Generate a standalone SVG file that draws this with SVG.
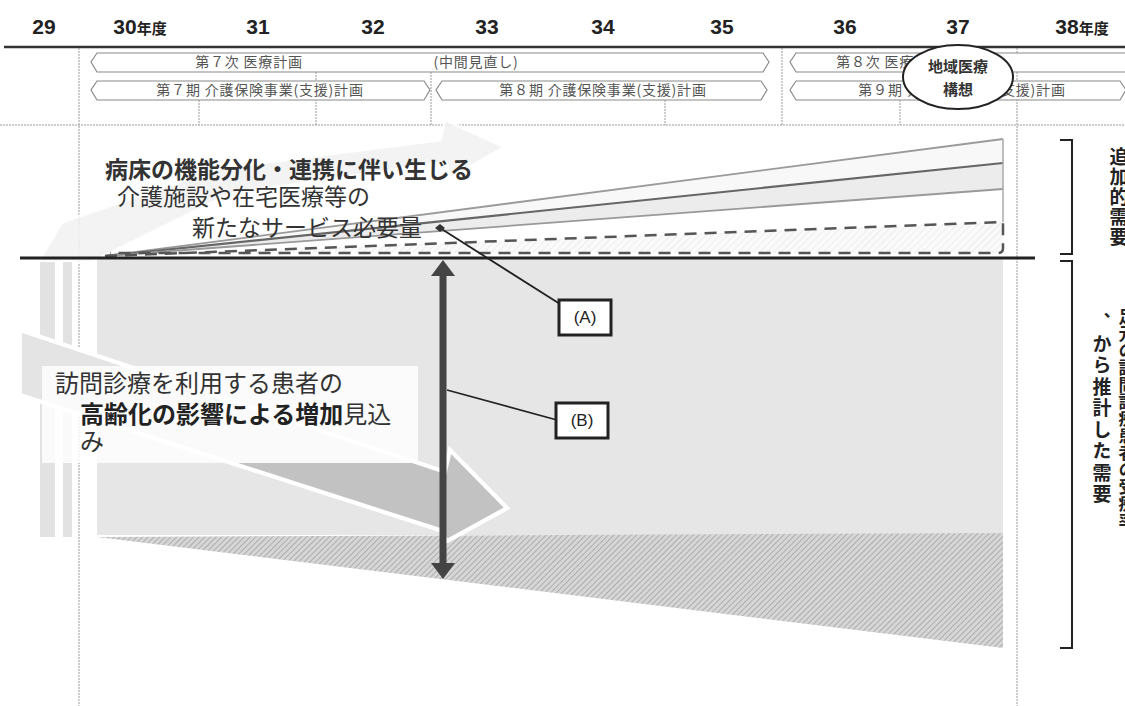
<svg xmlns="http://www.w3.org/2000/svg" width="1125" height="706" viewBox="0 0 1125 706">
<defs>
<style>
.yr{font-family:"Liberation Sans","Noto Sans CJK JP",sans-serif;font-weight:bold;font-size:21px;fill:#222;text-anchor:middle}
.yrs{font-family:"Noto Sans CJK JP",sans-serif;font-size:15px;font-weight:bold}
.pill{fill:#fff;stroke:#8a8a8a;stroke-width:1.2}
.pt{font-family:"Noto Sans CJK JP",sans-serif;font-size:14px;letter-spacing:0.8px;fill:#555;text-anchor:middle}
.grid{stroke:#9a9a9a;stroke-width:1;stroke-dasharray:2 1;fill:none}
.jp{font-family:"Noto Sans CJK JP",sans-serif;fill:#333}
.lbl{font-family:"Liberation Sans","Noto Sans CJK JP",sans-serif;font-size:17px;fill:#222;text-anchor:middle}
.box{fill:#fff;stroke:#222;stroke-width:3}
.vt{font-family:"Noto Sans CJK JP",sans-serif;font-weight:bold;fill:#222;writing-mode:vertical-rl}
</style>
<pattern id="hatch" width="4" height="4" patternUnits="userSpaceOnUse" patternTransform="rotate(45)">
<rect width="4" height="4" fill="#d6d6d6"/>
<line x1="0" y1="0" x2="0" y2="4" stroke="#9c9c9c" stroke-width="1.4"/>
</pattern>
<pattern id="hatchL" width="5" height="5" patternUnits="userSpaceOnUse" patternTransform="rotate(45)">
<rect width="5" height="5" fill="#fafafa"/>
<line x1="0" y1="0" x2="0" y2="5" stroke="#e2e2e2" stroke-width="1"/>
</pattern>
<clipPath id="belowBox">
<rect x="0" y="463" width="1125" height="243"/>
<rect x="418" y="0" width="707" height="706"/>
</clipPath>
</defs>
<rect width="1125" height="706" fill="#fff"/>

<!-- header years -->
<g id="years">
<text class="yr" x="44" y="34">29</text>
<text class="yr" x="140" y="34">30<tspan class="yrs">年度</tspan></text>
<text class="yr" x="258" y="34">31</text>
<text class="yr" x="373" y="34">32</text>
<text class="yr" x="487" y="34">33</text>
<text class="yr" x="603" y="34">34</text>
<text class="yr" x="722" y="34">35</text>
<text class="yr" x="845" y="34">36</text>
<text class="yr" x="958" y="34">37</text>
<text class="yr" x="1082" y="34">38<tspan class="yrs">年度</tspan></text>
</g>
<line x1="4" y1="47" x2="1125" y2="47" stroke="#333" stroke-width="2.5"/>

<!-- grid lines -->
<g id="grid">
<line class="grid" x1="79" y1="48" x2="79" y2="706"/>
<line class="grid" x1="1017" y1="48" x2="1017" y2="706"/>
<line class="grid" x1="782" y1="48" x2="782" y2="125"/>
<line class="grid" x1="431" y1="72" x2="431" y2="125"/>
<line class="grid" x1="199" y1="100" x2="199" y2="125"/>
<line class="grid" x1="316" y1="72" x2="316" y2="125"/>
<line class="grid" x1="665" y1="100" x2="665" y2="125"/>
<line class="grid" x1="900" y1="100" x2="900" y2="125"/>
<line class="grid" x1="0" y1="125" x2="1125" y2="125"/>
</g>

<!-- plan pills -->
<g id="plan-medical-7">
<path class="pill" d="M97,53 L763,53 L769,62 L763,72 L97,72 L91,62 Z"/>
<text class="pt" x="249" y="67">第７次 医療計画</text>
<text class="pt" x="476" y="67">(中間見直し)</text>
</g>
<g id="plan-medical-8">
<path class="pill" d="M796,53 L1130,53 L1130,72 L796,72 L790,62 Z"/>
<text class="pt" x="890" y="67">第８次 医療計画</text>
</g>
<g id="plan-care-7">
<path class="pill" d="M97,81 L424,81 L430,90 L424,100 L97,100 L91,90 Z"/>
<text class="pt" x="260" y="95">第７期 介護保険事業(支援)計画</text>
</g>
<g id="plan-care-8">
<path class="pill" d="M442,81 L761,81 L767,90 L761,100 L442,100 L436,90 Z"/>
<text class="pt" x="603" y="95">第８期 介護保険事業(支援)計画</text>
</g>
<g id="plan-care-9">
<path class="pill" d="M796,81 L1120,81 L1126,90 L1120,100 L796,100 L790,90 Z"/>
<text class="pt" x="962" y="95">第９期 介護保険事業(支援)計画</text>
</g>
<g id="regional-vision">
<ellipse cx="958" cy="77" rx="55" ry="32" fill="#fff" stroke="#222" stroke-width="2"/>
<text class="jp" x="958" y="72" font-size="15" font-weight="bold" text-anchor="middle" fill="#222">地域医療</text>
<text class="jp" x="958" y="95" font-size="15" font-weight="bold" text-anchor="middle" fill="#222">構想</text>
</g>

<!-- decorative upper arrow -->
<g id="upper-arrow">
<polygon points="38,262 62,222 220,168 440,140 445,120 505,147 450,178 446,162 230,194 92,262" fill="#f2f2f2" stroke="#fff" stroke-width="3" opacity="0.85"/>
</g>

<!-- left faint bars -->
<g id="left-bars">
<rect x="40" y="262" width="15" height="275" fill="#e2e2e2"/>
<rect x="63" y="262" width="9" height="275" fill="#e2e2e2"/>
</g>

<!-- lower base area -->
<g id="base-area">
<rect x="97" y="259" width="906" height="276" fill="#e6e6e6"/>
<polygon points="97,537 1003,533 1003,648" fill="url(#hatch)"/>
</g>

<!-- lower decorative arrow -->
<g id="lower-arrow">
<polygon points="20,330 445,472 450,450 507,508 447,541 440,530 20,395" fill="#e4e4e4" stroke="#fff" stroke-width="4"/>
<polygon points="20,330 445,472 450,450 507,508 447,541 440,530 20,395" fill="#c2c2c2" stroke="#fff" stroke-width="4" clip-path="url(#belowBox)"/>
</g>

<!-- additional demand wedge -->
<g id="wedge">
<polygon points="105,256 1003,139 1003,163" fill="#f8f8f8"/>
<polygon points="105,256 1003,163 1003,189" fill="#ececec"/>
<polygon points="105,256 1003,222 1003,253 110,253" fill="url(#hatchL)"/>
<line x1="105" y1="256" x2="1003" y2="139" stroke="#9a9a9a" stroke-width="1.8"/>
<line x1="105" y1="256" x2="1003" y2="163" stroke="#666" stroke-width="2.2"/>
<line x1="105" y1="256" x2="1003" y2="189" stroke="#999" stroke-width="1.8"/>
<line x1="1003" y1="139" x2="1003" y2="222" stroke="#aaa" stroke-width="1.5"/>
<path d="M105,256 L1003,222 L1003,248 Q1003,253 998,253 L110,253" fill="none" stroke="#555" stroke-width="2.5" stroke-dasharray="12 8"/>
</g>
<line x1="20" y1="258" x2="1035" y2="258" stroke="#222" stroke-width="3"/>

<!-- text blocks -->
<g id="text-new-services">
<text class="jp" x="105" y="178" font-size="23" font-weight="bold" fill="#333">病床の機能分化・連携に伴い生じる</text>
<text class="jp" x="117" y="205" font-size="23">介護施設や在宅医療等の</text>
<text class="jp" x="192" y="236" font-size="23">新たなサービス必要量</text>
</g>
<g id="text-aging">
<rect x="42" y="366" width="376" height="97" fill="#fff" opacity="0.82"/>
<text class="jp" x="55" y="392" font-size="24">訪問診療を利用する患者の</text>
<text class="jp" x="80" y="423" font-size="24"><tspan font-weight="bold" fill="#222">高齢化の影響による増加</tspan>見込</text>
<text class="jp" x="80" y="450" font-size="24">み</text>
</g>

<!-- connectors -->
<g id="connectors">
<line x1="440" y1="228" x2="560" y2="304" stroke="#222" stroke-width="1.8"/>
<polygon points="440,224 445,228 440,232 435,228" fill="#333"/>
<line x1="447" y1="390" x2="557" y2="420" stroke="#222" stroke-width="1.8"/>
<line x1="443" y1="272" x2="443" y2="566" stroke="#444" stroke-width="7"/>
<polygon points="431,276 443,260 455,276" fill="#444"/>
<polygon points="431,563 443,579 455,563" fill="#444"/>
</g>

<g id="label-A">
<rect class="box" x="559" y="300" width="52" height="35"/>
<text class="lbl" x="585" y="323">(A)</text>
</g>
<g id="label-B">
<rect class="box" x="556" y="403" width="52" height="35"/>
<text class="lbl" x="582" y="426">(B)</text>
</g>

<!-- right brackets and labels -->
<g id="bracket-additional">
<path d="M1060,140 L1072,140 L1072,254 L1060,254" fill="none" stroke="#222" stroke-width="2"/>
<text class="vt" x="1119" y="147" font-size="19" letter-spacing="1">追加的需要</text>
</g>
<g id="bracket-base">
<path d="M1060,261 L1072,261 L1072,648 L1060,648" fill="none" stroke="#222" stroke-width="2"/>
<text class="vt" x="1127" y="308" font-size="17">足元の訪問診療患者の受療率</text>
<text class="vt" x="1102" y="312" font-size="17">、</text>
<text class="vt" x="1102" y="334" font-size="19" letter-spacing="2.5">から推計した需要</text>
</g>
</svg>
